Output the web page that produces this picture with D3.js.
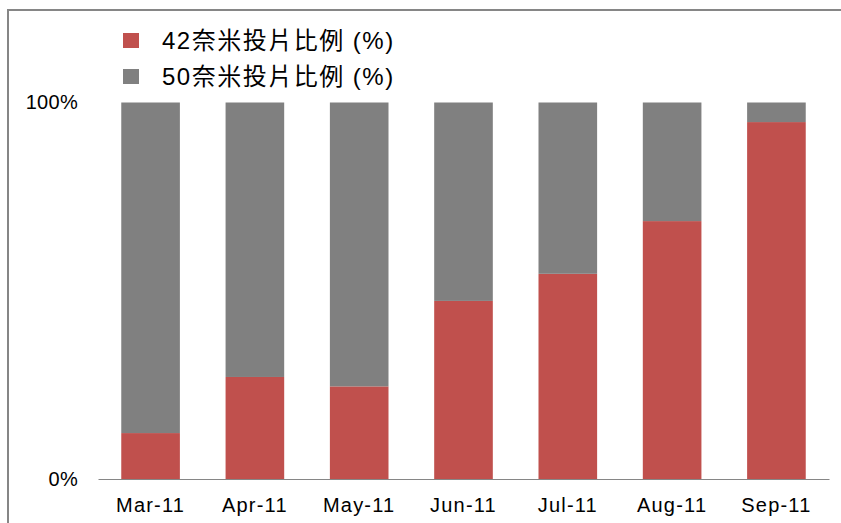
<!DOCTYPE html>
<html>
<head>
<meta charset="utf-8">
<script src="https://cdn.jsdelivr.net/npm/d3@7"></script>
<style>
  body { margin: 0; background: #fff; }
  svg { display: block; }
  text { font-family: "Liberation Sans", Arial, "Noto Sans CJK TC", sans-serif; fill: #000; }
</style>
</head>
<body>
<div id="chart"></div>
<script>
var months = ['Mar-11', 'Apr-11', 'May-11', 'Jun-11', 'Jul-11', 'Aug-11', 'Sep-11'];
var nm42 = [12.2, 27.1, 24.6, 47.3, 54.5, 68.5, 94.8];
var nm50 = [87.8, 72.9, 75.4, 52.7, 45.5, 31.5, 5.2];
var seriesNames = ['42奈米投片比例 (%)', '50奈米投片比例 (%)'];
var yTicks = [0, 100];

var width = 841, height = 523;
var colors = ['#c0504d', '#808080'];

var svg = d3.select('#chart').append('svg').attr('width', width).attr('height', height);

// outer frame (right and bottom edges run off the picture)
svg.append('rect')
    .attr('x', 8).attr('y', 10)
    .attr('width', 900).attr('height', 600)
    .attr('fill', 'none')
    .attr('stroke', '#868686')
    .attr('stroke-width', 2);

var x = d3.scaleBand().domain(months).range([98, 829]).paddingInner(0.438).paddingOuter(0.223);
var y = d3.scaleLinear().domain([0, 100]).range([479, 102.5]);

var table = months.map(function(m, i) {
    return { month: m, a: nm42[i], b: nm50[i] };
});
var stacked = d3.stack().keys(['a', 'b'])(table);

svg.append('g').selectAll('g')
    .data(stacked)
    .enter()
    .append('g')
    .attr('fill', function(d, i) { return colors[i]; })
    .selectAll('rect')
    .data(function(d) { return d; })
    .enter()
    .append('rect')
    .attr('x', function(d) { return x(d.data.month); })
    .attr('y', function(d) { return y(d[1]); })
    .attr('width', x.bandwidth())
    .attr('height', function(d) { return y(d[0]) - y(d[1]); });

// x axis
var xAxis = svg.append('g')
    .attr('transform', 'translate(0,479)')
    .call(d3.axisBottom(x).tickSize(0).tickPadding(19));
xAxis.select('.domain').attr('stroke', '#868686').attr('stroke-width', 1);
xAxis.selectAll('text')
    .attr('font-size', 20)
    .attr('letter-spacing', 1.2)
    .attr('font-family', '"Liberation Sans", Arial, sans-serif');

// y axis
var yAxis = svg.append('g')
    .attr('transform', 'translate(98,0)')
    .call(d3.axisLeft(y).tickValues(yTicks).tickSize(0).tickPadding(20)
        .tickFormat(function(d) { return d + '%'; }));
yAxis.select('.domain').remove();
yAxis.selectAll('text')
    .attr('font-size', 20)
    .attr('letter-spacing', 0.3)
    .attr('font-family', '"Liberation Sans", Arial, sans-serif');

// legend
var legend = svg.append('g').selectAll('g')
    .data(seriesNames)
    .enter()
    .append('g')
    .attr('transform', function(d, i) { return 'translate(123,' + (33 + i * 36) + ')'; });

legend.append('rect')
    .attr('width', 16).attr('height', 15)
    .attr('fill', function(d, i) { return colors[i]; });

legend.append('text')
    .attr('x', 39).attr('y', 15.5)
    .attr('font-size', 24)
    .attr('letter-spacing', 1.5)
    .text(function(d) { return d; });
</script>
</body>
</html>
